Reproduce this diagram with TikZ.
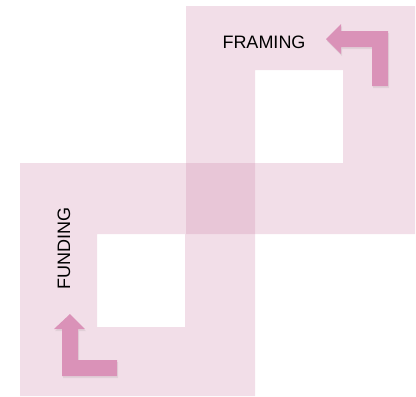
\documentclass[tikz,border=0pt]{standalone}
\usepackage{fontspec}
\setmainfont{Liberation Sans}
\usepackage{tikz}
\usetikzlibrary{positioning,shadows}
\definecolor{bandpink}{RGB}{201,118,159}
\definecolor{turnpink}{RGB}{218,146,184}

\begin{document}
\begin{tikzpicture}[x=1pt, y=-1pt, font=\fontsize{18}{20}\selectfont]
  \tikzset{band/.style={fill=bandpink, fill opacity=0.24, even odd rule},
    turn/.style={fill=turnpink, drop shadow={shadow xshift=1pt, shadow yshift=-2pt, opacity=0.15}}}
  \useasboundingbox (0,0) rectangle (416,397);
  % two square rings, overlap gets darker
  \fill[band] (186,6) rectangle (415,234) (255,70) rectangle (343,163);
  \fill[band] (20,163) rectangle (255,396) (97,234) rectangle (185,327);
  % bent arrows in the corners
  \fill[turn] (326,39) -- (341,24) -- (341,31) -- (388,31) -- (388,86) -- (372,86)
    -- (372,47) -- (341,47) -- (341,54) -- cycle;
  \fill[turn] (70,314) -- (85,329) -- (78,329) -- (78,360) -- (117,360) -- (117,376)
    -- (62,376) -- (62,329) -- (54,329) -- cycle;
  \node (framing) at (264,42.5) {FRAMING};
  \node[rotate=90] (funding) at (64,248.5) {FUNDING};
\end{tikzpicture}
\end{document}
